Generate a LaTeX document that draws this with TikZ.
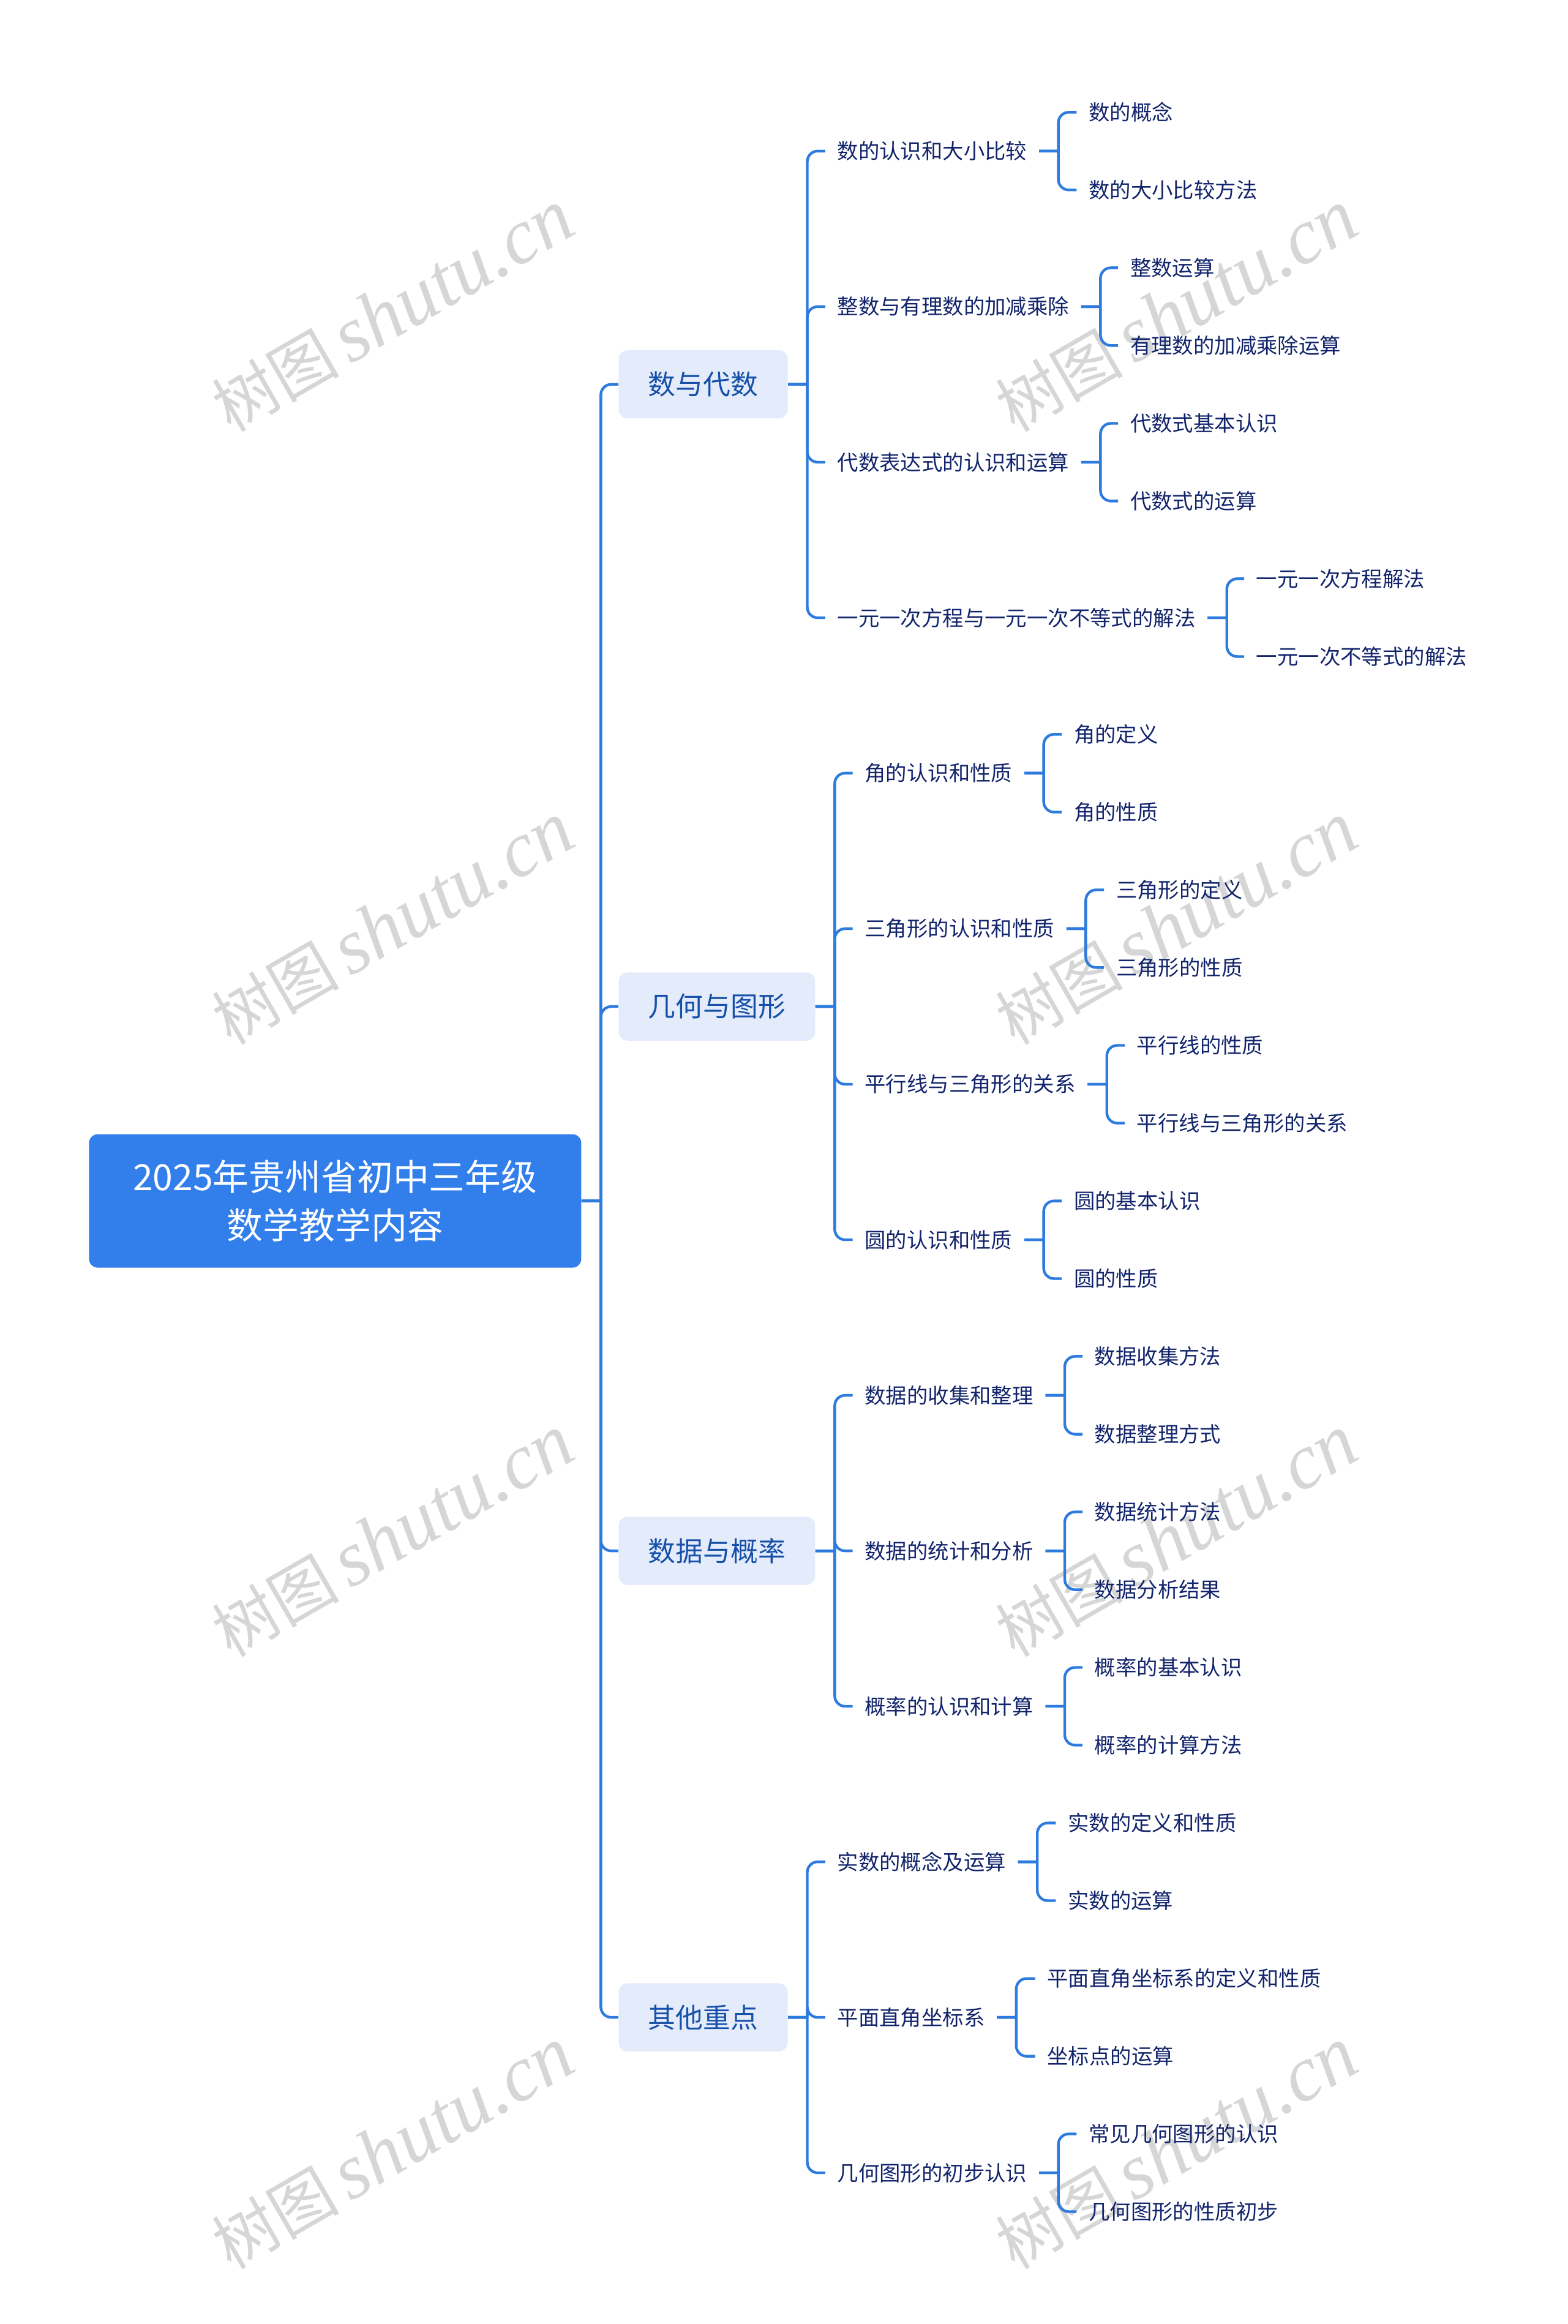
\documentclass[tikz,border=0pt]{standalone}
\usepackage{fontspec}
\setmainfont{Noto Sans CJK SC}
\newfontfamily\wmlatin{Liberation Serif}
\usepackage[usenames,dvipsnames,table]{xcolor}
\definecolor{linkblue}{HTML}{2E7BDF}
\definecolor{rootblue}{HTML}{327FEB}
\definecolor{branchfill}{HTML}{E4ECFC}
\definecolor{branchtext}{HTML}{1650A8}
\definecolor{leaftext}{HTML}{12246B}
\definecolor{markgray}{HTML}{D6D6D6}
\tikzset{
	rootbox/.style={fill=rootblue, text=white, rounded corners=6pt, minimum width=332pt, minimum height=90pt, inner sep=0pt, align=center, font=\fontsize{24.3}{32.5}\selectfont},
	branchbox/.style={anchor=west, fill=branchfill, text=branchtext, rounded corners=6pt, minimum height=46pt, inner xsep=20pt, inner ysep=0pt, font=\fontsize{18.5}{22}\selectfont},
	topicbox/.style={anchor=west, text=leaftext, inner xsep=8pt, inner ysep=4pt, font=\fontsize{14.2}{18}\selectfont},
	watermark/.style={rotate=30, text=markgray, inner sep=0pt},
	link/.style={line width=1.8pt, color=linkblue, rounded corners=7pt, to path={(\tikztostart.east) -- ++(13,0) (\tikztostart.east) ++(13,0) |- (\tikztotarget.west)}}
}
\newcommand{\marktext}{{\fontsize{43}{50}\selectfont 树图}\hspace{7pt}{\fontsize{53}{50}\selectfont\wmlatin\itshape shutu.cn}}
\begin{document}
\begin{tikzpicture}[x=1pt,y=-1pt]
	\useasboundingbox (0,0) rectangle (1057,1567.3);

	\node[watermark] (markone) at (265,210) {\marktext};
	\node[watermark] (marktwo) at (793.5,210) {\marktext};
	\node[watermark] (markthree) at (265,623) {\marktext};
	\node[watermark] (markfour) at (793.5,623) {\marktext};
	\node[watermark] (markfive) at (265,1036) {\marktext};
	\node[watermark] (marksix) at (793.5,1036) {\marktext};
	\node[watermark] (markseven) at (265,1449) {\marktext};
	\node[watermark] (markeight) at (793.5,1449) {\marktext};

	\node[rootbox] (root) at (226,809.9) {2025年贵州省初中三年级\\数学教学内容};

	\node[branchbox] (algebra) at (417,259.2) {数与代数};
	\node[branchbox] (geometry) at (417,678.8) {几何与图形};
	\node[branchbox] (data) at (417,1045.9) {数据与概率};
	\node[branchbox] (other) at (417,1360.5) {其他重点};

	\node[topicbox] (numbers) at (556.5,101.9) {数的认识和大小比较};
	\node[topicbox] (rational) at (556.5,206.8) {整数与有理数的加减乘除};
	\node[topicbox] (expr) at (556.5,311.7) {代数表达式的认识和运算};
	\node[topicbox] (equation) at (556.5,416.6) {一元一次方程与一元一次不等式的解法};

	\node[topicbox] (numconcept) at (726,75.7) {数的概念};
	\node[topicbox] (numcompare) at (726,128.1) {数的大小比较方法};
	\node[topicbox] (intcalc) at (754,180.6) {整数运算};
	\node[topicbox] (ratcalc) at (754,233) {有理数的加减乘除运算};
	\node[topicbox] (exprbasic) at (754,285.5) {代数式基本认识};
	\node[topicbox] (exprcalc) at (754,337.9) {代数式的运算};
	\node[topicbox] (eqsolve) at (839,390.3) {一元一次方程解法};
	\node[topicbox] (ineqsolve) at (839,442.8) {一元一次不等式的解法};

	\node[topicbox] (angle) at (575,521.4) {角的认识和性质};
	\node[topicbox] (triangle) at (575,626.3) {三角形的认识和性质};
	\node[topicbox] (parallel) at (575,731.2) {平行线与三角形的关系};
	\node[topicbox] (circle) at (575,836.1) {圆的认识和性质};

	\node[topicbox] (angledef) at (716,495.2) {角的定义};
	\node[topicbox] (angleprop) at (716,547.7) {角的性质};
	\node[topicbox] (tridef) at (744.5,600.1) {三角形的定义};
	\node[topicbox] (triprop) at (744.5,652.5) {三角形的性质};
	\node[topicbox] (parprop) at (758.5,705) {平行线的性质};
	\node[topicbox] (parrel) at (758.5,757.4) {平行线与三角形的关系};
	\node[topicbox] (circbasic) at (716,809.9) {圆的基本认识};
	\node[topicbox] (circprop) at (716,862.3) {圆的性质};

	\node[topicbox] (collect) at (575,941) {数据的收集和整理};
	\node[topicbox] (stats) at (575,1045.9) {数据的统计和分析};
	\node[topicbox] (prob) at (575,1150.7) {概率的认识和计算};

	\node[topicbox] (collectway) at (730,914.7) {数据收集方法};
	\node[topicbox] (sortway) at (730,967.2) {数据整理方式};
	\node[topicbox] (statway) at (730,1019.6) {数据统计方法};
	\node[topicbox] (statres) at (730,1072.1) {数据分析结果};
	\node[topicbox] (probbasic) at (730,1124.5) {概率的基本认识};
	\node[topicbox] (probcalc) at (730,1176.9) {概率的计算方法};

	\node[topicbox] (real) at (556.5,1255.6) {实数的概念及运算};
	\node[topicbox] (plane) at (556.5,1360.5) {平面直角坐标系};
	\node[topicbox] (shape) at (556.5,1465.3) {几何图形的初步认识};

	\node[topicbox] (realdef) at (712,1229.4) {实数的定义和性质};
	\node[topicbox] (realcalc) at (712,1281.8) {实数的运算};
	\node[topicbox] (planedef) at (698,1334.3) {平面直角坐标系的定义和性质};
	\node[topicbox] (planecalc) at (698,1386.7) {坐标点的运算};
	\node[topicbox] (shapeknow) at (726,1439.1) {常见几何图形的认识};
	\node[topicbox] (shapeprop) at (726,1491.5) {几何图形的性质初步};

	\draw[link] (root) to (algebra);
	\draw[link] (root) to (geometry);
	\draw[link] (root) to (data);
	\draw[link] (root) to (other);

	\draw[link] (algebra) to (numbers);
	\draw[link] (algebra) to (rational);
	\draw[link] (algebra) to (expr);
	\draw[link] (algebra) to (equation);
	\draw[link] (numbers) to (numconcept);
	\draw[link] (numbers) to (numcompare);
	\draw[link] (rational) to (intcalc);
	\draw[link] (rational) to (ratcalc);
	\draw[link] (expr) to (exprbasic);
	\draw[link] (expr) to (exprcalc);
	\draw[link] (equation) to (eqsolve);
	\draw[link] (equation) to (ineqsolve);

	\draw[link] (geometry) to (angle);
	\draw[link] (geometry) to (triangle);
	\draw[link] (geometry) to (parallel);
	\draw[link] (geometry) to (circle);
	\draw[link] (angle) to (angledef);
	\draw[link] (angle) to (angleprop);
	\draw[link] (triangle) to (tridef);
	\draw[link] (triangle) to (triprop);
	\draw[link] (parallel) to (parprop);
	\draw[link] (parallel) to (parrel);
	\draw[link] (circle) to (circbasic);
	\draw[link] (circle) to (circprop);

	\draw[link] (data) to (collect);
	\draw[link] (data) to (stats);
	\draw[link] (data) to (prob);
	\draw[link] (collect) to (collectway);
	\draw[link] (collect) to (sortway);
	\draw[link] (stats) to (statway);
	\draw[link] (stats) to (statres);
	\draw[link] (prob) to (probbasic);
	\draw[link] (prob) to (probcalc);

	\draw[link] (other) to (real);
	\draw[link] (other) to (plane);
	\draw[link] (other) to (shape);
	\draw[link] (real) to (realdef);
	\draw[link] (real) to (realcalc);
	\draw[link] (plane) to (planedef);
	\draw[link] (plane) to (planecalc);
	\draw[link] (shape) to (shapeknow);
	\draw[link] (shape) to (shapeprop);
\end{tikzpicture}
\end{document}
